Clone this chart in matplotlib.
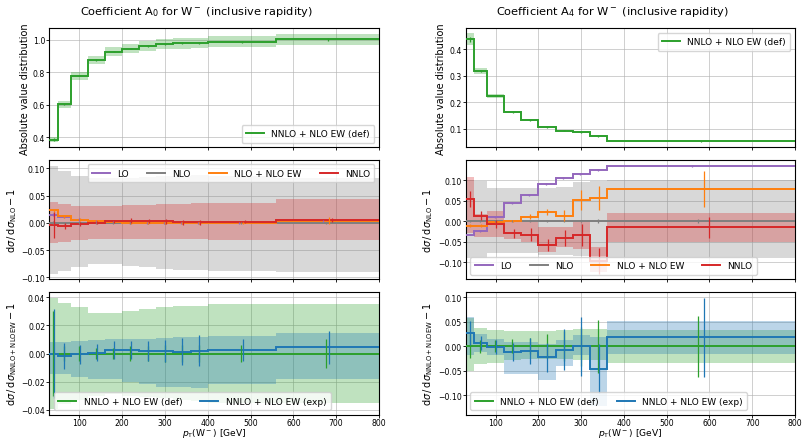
import numpy as np
import matplotlib
matplotlib.use("Agg")
import matplotlib.pyplot as plt
from matplotlib.lines import Line2D

# ---------------- binning ----------------
edges_a0 = [30, 50, 80, 120, 160, 200, 240, 280, 320, 360, 400, 560, 800]
edges_a4 = [30, 50, 80, 120, 160, 200, 240, 280, 320, 360, 800]
xticks = [100, 200, 300, 400, 500, 600, 700, 800]

# ---------------- A0: absolute ----------------
a0_def = [0.386, 0.603, 0.779, 0.877, 0.927, 0.947, 0.963, 0.973, 0.979, 0.982, 0.990, 1.004]
a0_def_hi = [0.401, 0.625, 0.805, 0.902, 0.954, 0.975, 0.994, 1.005, 1.012, 1.015, 1.025, 1.039]
a0_def_lo = [0.371, 0.581, 0.753, 0.851, 0.900, 0.919, 0.933, 0.942, 0.947, 0.949, 0.955, 0.969]
a0_def_err = [0.011, 0.003, 0.004, 0.004, 0.004, 0.005, 0.005, 0.006, 0.006, 0.006, 0.006, 0.010]

# ---------------- A0: ratio to NLO ----------------
a0_lo = [0.015, 0.011, 0.006, 0.003, 0.001, 0.0, 0.0, 0.0, 0.0, 0.0, 0.0, 0.004]
a0_nlo = [0.0, 0.0, 0.0, 0.0, 0.0, 0.0, 0.0, 0.0, 0.0, 0.0, 0.0, 0.0]
a0_nloew = [0.023, 0.012, 0.006, 0.003, 0.001, -0.0006, -0.0006, 0.0, 0.0, 0.0, 0.0, 0.004]
a0_nnlo = [-0.0037, -0.006, -0.002, 0.0, 0.003, 0.004, 0.003, 0.0025, 0.0006, 0.0006, 0.002, 0.0048]
a0_nlo_hi = [0.105, 0.095, 0.086, 0.083, 0.082, 0.083, 0.084, 0.085, 0.086, 0.087, 0.086, 0.082]
a0_nlo_lo = [-0.094, -0.089, -0.081, -0.076, -0.076, -0.079, -0.082, -0.084, -0.086, -0.086, -0.088, -0.091]
a0_nnlo_hi = [0.038, 0.035, 0.031, 0.031, 0.031, 0.032, 0.033, 0.034, 0.035, 0.036, 0.037, 0.044]
a0_nnlo_lo = [-0.037, -0.035, -0.032, -0.029, -0.029, -0.029, -0.029, -0.030, -0.030, -0.030, -0.031, -0.032]
a0_lo_err = [0.003, 0.002, 0.002, 0.002, 0.002, 0.002, 0.002, 0.002, 0.002, 0.002, 0.002, 0.002]
a0_nlo_err = [0.003, 0.002, 0.002, 0.002, 0.002, 0.002, 0.002, 0.002, 0.002, 0.002, 0.002, 0.002]
a0_nloew_err = [0.003, 0.003, 0.002, 0.002, 0.002, 0.002, 0.002, 0.002, 0.002, 0.002, 0.002, 0.006]
a0_nnlo_err = [0.024, 0.005, 0.003, 0.003, 0.003, 0.004, 0.004, 0.004, 0.004, 0.004, 0.003, 0.004]

# ---------------- A0: ratio to NNLO+NLO EW (def) ----------------
a0_r_def = [0.0, 0.0, 0.0, 0.0, 0.0, 0.0, 0.0, 0.0, 0.0, 0.0, 0.0, 0.0]
a0_r_exp = [0.0, -0.0017, -0.0007, 0.0007, 0.0026, 0.0026, 0.0019, 0.0017, 0.0012, 0.0019, 0.0024, 0.0043]
a0_r_def_hi = [0.0396, 0.036, 0.033, 0.029, 0.029, 0.030, 0.032, 0.033, 0.034, 0.034, 0.035, 0.035]
a0_r_def_lo = [-0.0396, -0.036, -0.033, -0.030, -0.029, -0.030, -0.031, -0.032, -0.033, -0.034, -0.035, -0.035]
a0_r_exp_hi = [0.0083, 0.0083, 0.009, 0.0098, 0.010, 0.010, 0.0105, 0.011, 0.0114, 0.0117, 0.0126, 0.0143]
a0_r_exp_lo = [-0.0148, -0.0148, -0.0164, -0.018, -0.0185, -0.020, -0.022, -0.0236, -0.024, -0.0245, -0.0219, -0.0183]
a0_r_def_err = [0.030, 0.005, 0.005, 0.004, 0.004, 0.005, 0.005, 0.006, 0.006, 0.006, 0.006, 0.010]
a0_r_exp_err = [0.032, 0.009, 0.007, 0.006, 0.0065, 0.0065, 0.007, 0.008, 0.0095, 0.011, 0.0077, 0.012]

# ---------------- A4: absolute ----------------
a4_def = [0.436, 0.318, 0.225, 0.163, 0.132, 0.108, 0.094, 0.087, 0.073, 0.053]
a4_def_hi = [0.461, 0.330, 0.232, 0.168, 0.136, 0.111, 0.097, 0.090, 0.0756, 0.0547]
a4_def_lo = [0.414, 0.307, 0.217, 0.158, 0.128, 0.105, 0.0915, 0.0846, 0.0709, 0.0512]
a4_def_err = [0.011, 0.004, 0.003, 0.002, 0.002, 0.003, 0.002, 0.003, 0.004, 0.003]

# ---------------- A4: ratio to NLO ----------------
a4_lo = [-0.033, -0.025, 0.009, 0.044, 0.064, 0.090, 0.105, 0.115, 0.125, 0.134]
a4_nlo = [0.0, 0.0, 0.0, 0.0, 0.0, 0.0, 0.0, 0.0, 0.0, 0.0]
a4_nloew = [-0.011, -0.011, -0.003, 0.0, 0.011, 0.022, 0.013, 0.051, 0.056, 0.078]
a4_nnlo = [0.054, 0.013, -0.007, -0.030, -0.033, -0.058, -0.042, -0.034, -0.097, -0.015]
a4_nlo_hi = [0.100, 0.098, 0.080, 0.080, 0.080, 0.080, 0.082, 0.095, 0.098, 0.100]
a4_nlo_lo = [-0.089, -0.089, -0.078, -0.078, -0.078, -0.082, -0.082, -0.086, -0.086, -0.090]
a4_nnlo_hi = [0.108, 0.017, 0.025, -0.003, -0.003, -0.015, -0.015, -0.003, -0.063, 0.019]
a4_nnlo_lo = [-0.030, -0.040, -0.038, -0.044, -0.052, -0.076, -0.064, -0.068, -0.125, -0.052]
a4_lo_err = [0.002, 0.002, 0.002, 0.002, 0.002, 0.002, 0.002, 0.002, 0.002, 0.002]
a4_nlo_err = [0.003, 0.003, 0.003, 0.003, 0.003, 0.003, 0.003, 0.003, 0.004, 0.004]
a4_nloew_err = [0.003, 0.003, 0.003, 0.003, 0.007, 0.008, 0.013, 0.024, 0.029, 0.044]
a4_nnlo_err = [0.020, 0.011, 0.010, 0.011, 0.015, 0.015, 0.020, 0.028, 0.031, 0.026]

# ---------------- A4: ratio to NNLO+NLO EW (def) ----------------
a4_r_def = [0.0, 0.0, 0.0, 0.0, 0.0, 0.0, 0.0, 0.0, 0.0, 0.0]
a4_r_exp = [0.0266, 0.006, -0.002, -0.012, -0.010, -0.023, -0.0075, -0.0007, -0.046, 0.018]
a4_r_def_hi = [0.057, 0.037, 0.032, 0.030, 0.030, 0.030, 0.032, 0.035, 0.035, 0.032]
a4_r_def_lo = [-0.050, -0.036, -0.034, -0.029, -0.027, -0.027, -0.027, -0.028, -0.029, -0.034]
a4_r_exp_hi = [0.059, 0.025, 0.015, 0.008, 0.008, 0.005, 0.012, 0.022, 0.018, 0.052]
a4_r_exp_lo = [-0.019, -0.012, -0.019, -0.057, -0.057, -0.070, -0.040, -0.019, -0.122, -0.016]
a4_r_def_err = [0.025, 0.013, 0.012, 0.014, 0.016, 0.024, 0.030, 0.040, 0.054, 0.062]
a4_r_exp_err = [0.025, 0.014, 0.014, 0.018, 0.026, 0.030, 0.042, 0.060, 0.050, 0.081]

# ---------------- style ----------------
C_LO, C_NLO, C_EW, C_NNLO = "#9467bd", "#7f7f7f", "#ff7f0e", "#d62728"
C_DEF, C_EXP = "#2ca02c", "#1f77b4"
TICK_FS, LAB_FS, LEG_FS, TITLE_FS = 5.6, 7.0, 6.5, 8.2
LW, ELW = 1.4, 0.9

plt.rcParams["font.family"] = ["DejaVu Sans"]
fig = plt.figure(figsize=(8.05, 4.39), dpi=100)

W, H = 805.0, 439.0
def add_ax(x0, x1, y0, y1):
    return fig.add_axes([x0 / W, 1 - y1 / H, (x1 - x0) / W, (y1 - y0) / H])

cols = [(49.3, 379.0), (465.7, 795.0)]
rows = [(29.3, 148.3), (160.7, 280.3), (293.3, 415.7)]


def draw(ax, edges, vals, color, err, idx, n, hi=None, lo=None):
    e = np.asarray(edges, float)
    v = np.asarray(vals, float)
    if hi is not None:
        ax.stairs(hi, e, baseline=lo, fill=True, color=color, alpha=0.3, lw=0, zorder=1)
    ax.stairs(v, e, baseline=None, color=color, lw=LW, zorder=3)
    centers = 0.5 * (e[1:] + e[:-1])
    widths = e[1:] - e[:-1]
    xs = centers + (idx - (n - 1) / 2.0) * 0.03 * widths
    ax.errorbar(xs, v, yerr=err, fmt="none", ecolor=color, elinewidth=ELW, zorder=4)


def style(ax, ylim, yticks, yfmt, xlabels):
    ax.set_xlim(30, 800)
    ax.set_ylim(*ylim)
    ax.set_xticks(xticks)
    ax.set_yticks(yticks)
    ax.set_yticklabels([yfmt.format(t).replace("-", "\u2212") for t in yticks])
    ax.grid(True, color="#b0b0b0", lw=0.7, alpha=0.6)
    ax.set_axisbelow(True)
    ax.tick_params(labelsize=TICK_FS, length=2.0, width=0.6, pad=1.0)
    ax.tick_params(axis="x", length=1.8, pad=0.5)
    if not xlabels:
        ax.tick_params(labelbottom=False)
    else:
        ax.set_xlabel(r"$p_\mathrm{T}(\mathrm{W}^-)$ [GeV]", fontsize=6.6, labelpad=-0.6)
    for s in ax.spines.values():
        s.set_linewidth(0.8)


def handles(cs, labels):
    return [Line2D([0], [0], color=c, lw=LW) for c in cs], labels


panels = [
    dict(edges=edges_a0, title=r"Coefficient A$_0$ for W$^-$ (inclusive rapidity)", tx=196,
         top=(a0_def, a0_def_hi, a0_def_lo, a0_def_err),
         mid=[(a0_lo, a0_lo_err, None, None), (a0_nlo, a0_nlo_err, a0_nlo_hi, a0_nlo_lo),
              (a0_nloew, a0_nloew_err, None, None), (a0_nnlo, a0_nnlo_err, a0_nnlo_hi, a0_nnlo_lo)],
         bot=[(a0_r_def, a0_r_def_err, a0_r_def_hi, a0_r_def_lo), (a0_r_exp, a0_r_exp_err, a0_r_exp_hi, a0_r_exp_lo)],
         ylims=[(0.338, 1.072), (-0.1037, 0.1158), (-0.0436, 0.0436)],
         yticks=[[0.4, 0.6, 0.8, 1.0], [-0.10, -0.05, 0.0, 0.05, 0.10], [-0.04, -0.02, 0.0, 0.02, 0.04]],
         yfmt=["{:.1f}", "{:.2f}", "{:.2f}"],
         legs=["lower right", "upper right", "lower left"]),
    dict(edges=edges_a4, title=r"Coefficient A$_4$ for W$^-$ (inclusive rapidity)", tx=612,
         top=(a4_def, a4_def_hi, a4_def_lo, a4_def_err),
         mid=[(a4_lo, a4_lo_err, None, None), (a4_nlo, a4_nlo_err, a4_nlo_hi, a4_nlo_lo),
              (a4_nloew, a4_nloew_err, None, None), (a4_nnlo, a4_nnlo_err, a4_nnlo_hi, a4_nnlo_lo)],
         bot=[(a4_r_def, a4_r_def_err, a4_r_def_hi, a4_r_def_lo), (a4_r_exp, a4_r_exp_err, a4_r_exp_hi, a4_r_exp_lo)],
         ylims=[(0.031, 0.478), (-0.142, 0.1495), (-0.140, 0.110)],
         yticks=[[0.1, 0.2, 0.3, 0.4], [-0.10, -0.05, 0.0, 0.05, 0.10], [-0.10, -0.05, 0.0, 0.05, 0.10]],
         yfmt=["{:.1f}", "{:.2f}", "{:.2f}"],
         legs=["upper right", "lower left", "lower left"]),
]

leg_kw = dict(fontsize=LEG_FS, handlelength=2.0, borderpad=0.5, labelspacing=0.3,
              handletextpad=0.8, columnspacing=2.0, framealpha=0.8)

for (x0, x1), p in zip(cols, panels):
    e = p["edges"]
    ax_t = add_ax(x0, x1, *rows[0])
    ax_m = add_ax(x0, x1, *rows[1])
    ax_b = add_ax(x0, x1, *rows[2])

    v, hi, lo, err = p["top"]
    draw(ax_t, e, v, C_DEF, err, 0, 1, hi, lo)
    style(ax_t, p["ylims"][0], p["yticks"][0], p["yfmt"][0], False)
    ax_t.set_ylabel("Absolute value distribution", fontsize=LAB_FS, labelpad=2)
    h, l = handles([C_DEF], ["NNLO + NLO EW (def)"])
    ax_t.legend(h, l, loc=p["legs"][0], **leg_kw)

    mcols = [C_LO, C_NLO, C_EW, C_NNLO]
    for i, ((vv, ee, hh, ll), c) in enumerate(zip(p["mid"], mcols)):
        if hh is not None:
            ax_m.stairs(hh, np.asarray(e, float), baseline=ll, fill=True, color=c, alpha=0.3, lw=0, zorder=1)
    for i, ((vv, ee, hh, ll), c) in enumerate(zip(p["mid"], mcols)):
        draw(ax_m, e, vv, c, ee, i, 4)
    style(ax_m, p["ylims"][1], p["yticks"][1], p["yfmt"][1], False)
    ax_m.set_ylabel(r"$\mathrm{d}\sigma\,/\,\mathrm{d}\sigma_\mathrm{NLO} - 1$", fontsize=LAB_FS, labelpad=2)
    h, l = handles(mcols, ["LO", "NLO", "NLO + NLO EW", "NNLO"])
    ax_m.legend(h, l, loc=p["legs"][1], ncol=4, **leg_kw)

    bcols = [C_DEF, C_EXP]
    for i, ((vv, ee, hh, ll), c) in enumerate(zip(p["bot"], bcols)):
        ax_b.stairs(hh, np.asarray(e, float), baseline=ll, fill=True, color=c, alpha=0.3, lw=0, zorder=1)
    for i, ((vv, ee, hh, ll), c) in enumerate(zip(p["bot"], bcols)):
        draw(ax_b, e, vv, c, ee, i, 2)
    style(ax_b, p["ylims"][2], p["yticks"][2], p["yfmt"][2], True)
    ax_b.set_ylabel(r"$\mathrm{d}\sigma\,/\,\mathrm{d}\sigma_\mathrm{NNLO+NLOEW} - 1$", fontsize=LAB_FS, labelpad=2)
    h, l = handles(bcols, ["NNLO + NLO EW (def)", "NNLO + NLO EW (exp)"])
    ax_b.legend(h, l, loc=p["legs"][2], ncol=2, **leg_kw)

    fig.text(p["tx"] / W, 1 - 12 / H, p["title"], ha="center", va="center", fontsize=TITLE_FS)

fig.savefig("out.png", dpi=100)
